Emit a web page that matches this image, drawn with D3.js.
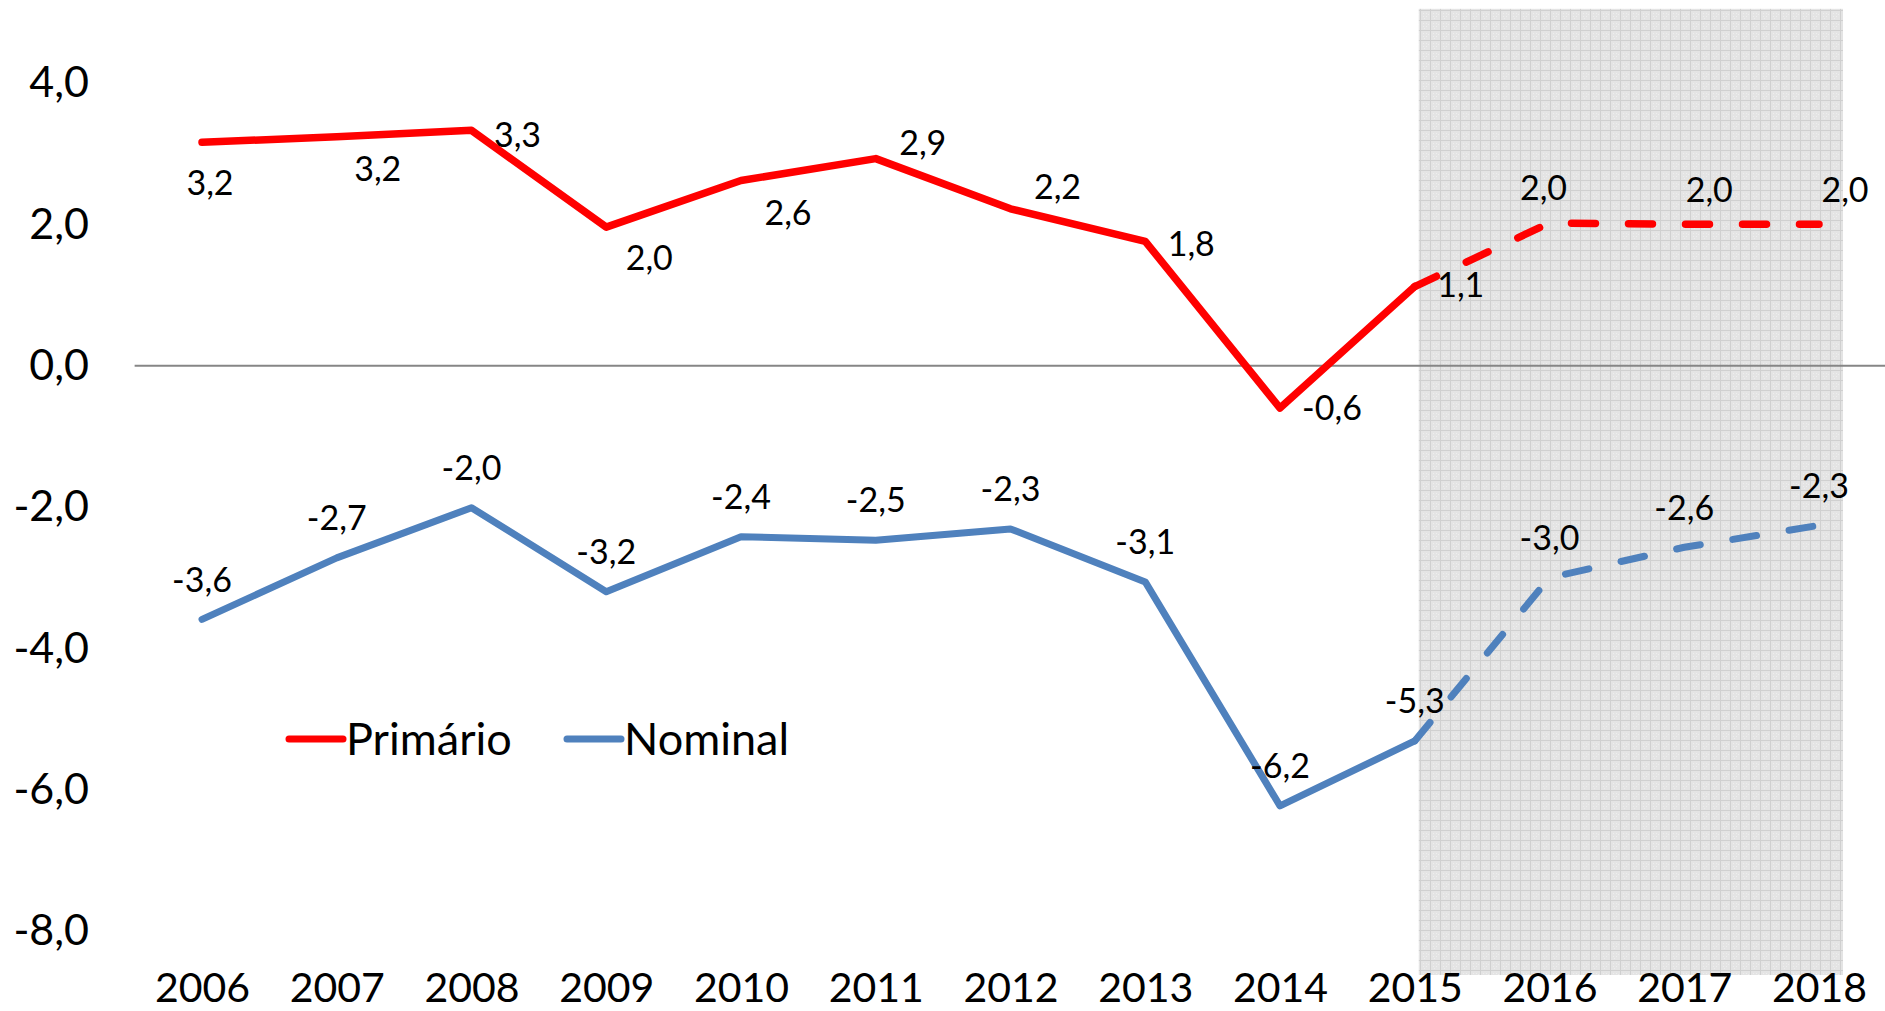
<!DOCTYPE html>
<html>
<head>
<meta charset="utf-8">
<script src="https://cdn.jsdelivr.net/npm/d3@7"></script>
<style>
  html, body { margin: 0; padding: 0; background: #fff; }
  svg { display: block; font-family: Lato, "Open Sans", sans-serif; }
</style>
</head>
<body>
<svg id="chart" width="1885" height="1011"></svg>
<script>
// ---- data ----
const years = ["2006","2007","2008","2009","2010","2011","2012","2013","2014","2015","2016","2017","2018"];
const primario = [3.16, 3.24, 3.33, 1.96, 2.62, 2.93, 2.22, 1.76, -0.6, 1.12, 2.02, 2.0, 2.0];
const nominal  = [-3.59, -2.72, -2.01, -3.2, -2.42, -2.47, -2.31, -3.06, -6.23, -5.31, -3.0, -2.57, -2.26];
const yTicks = [4, 2, 0, -2, -4, -6, -8];
const seriesNames = ["Primário", "Nominal"];
const projectionStart = "2015"; // dashed / shaded from here
const projectionEnd = "2018";

// ---- layout ----
const W = 1885, H = 1011;
const svg = d3.select("#chart");
const x = d3.scalePoint().domain(years).range([202, 1819]);
const y = d3.scaleLinear().domain([-8, 4]).range([931, 83]);
const step = x.step();
const plotLeft = x(years[0]) - step / 2;
const plotRight = W;

const loc = d3.formatLocale({decimal: ",", thousands: ".", grouping: [3], currency: ["", ""], minus: "-"});
const fmt = loc.format(".1f");

// pattern for shaded projection area
const defs = svg.append("defs");
const pat = defs.append("pattern").attr("id", "grid").attr("patternUnits", "userSpaceOnUse")
  .attr("width", 10).attr("height", 10);
pat.append("rect").attr("width", 10).attr("height", 10).attr("fill", "#e4e4e4");
pat.append("rect").attr("x", 0).attr("y", 0).attr("width", 10).attr("height", 1).attr("fill", "#d0d0d0");
pat.append("rect").attr("x", 0).attr("y", 0).attr("width", 1).attr("height", 10).attr("fill", "#d0d0d0");
[[3,3],[6,6],[3,6],[6,3],[4,8],[8,4]].forEach(([a,b]) =>
  pat.append("rect").attr("x", a).attr("y", b).attr("width", 1).attr("height", 1).attr("fill", "#eeeeee"));

// shaded projection band
svg.append("rect")
  .attr("x", x(projectionStart) + 4)
  .attr("y", y(5.05))
  .attr("width", x(projectionEnd) + 24 - (x(projectionStart) + 4))
  .attr("height", 975 - y(5.05))
  .attr("fill", "url(#grid)");

// zero line
svg.append("line")
  .attr("x1", plotLeft).attr("x2", plotRight)
  .attr("y1", y(0)).attr("y2", y(0))
  .attr("stroke", "#868686").attr("stroke-width", 2);

// y axis
const yAxis = svg.append("g").attr("transform", "translate(89,0)")
  .call(d3.axisLeft(y).tickValues(yTicks).tickFormat(fmt).tickSize(0).tickPadding(0));
yAxis.select(".domain").remove();
yAxis.selectAll("text").attr("font-size", 43).attr("fill", "#000").attr("font-family", "Lato, sans-serif");

// x axis
const xAxis = svg.append("g").attr("transform", "translate(0,973)")
  .call(d3.axisBottom(x).tickSize(0).tickPadding(0));
xAxis.select(".domain").remove();
xAxis.selectAll("text").attr("font-size", 41).attr("fill", "#000").attr("font-family", "Lato, sans-serif");

// lines
const series = [
  {name: seriesNames[0], values: primario, color: "#FF0000", width: 7.5},
  {name: seriesNames[1], values: nominal,  color: "#4F81BD", width: 7}
];
const splitIdx = years.indexOf(projectionStart);
const line = d3.line().x(d => x(d.year)).y(d => y(d.v));

series.forEach(s => {
  const pts = years.map((yr, i) => ({year: yr, v: s.values[i]}));
  svg.append("path").datum(pts.slice(0, splitIdx + 1)).attr("d", line)
    .attr("fill", "none").attr("stroke", s.color).attr("stroke-width", s.width)
    .attr("stroke-linejoin", "round").attr("stroke-linecap", "round");
  svg.append("path").datum(pts.slice(splitIdx)).attr("d", line)
    .attr("fill", "none").attr("stroke", s.color).attr("stroke-width", s.width)
    .attr("stroke-linejoin", "round").attr("stroke-linecap", "round")
    .attr("stroke-dasharray", "24,33");
});

// data labels (manual offsets as in the original)
const primarioLabelOffset = [[8,40],[41,32],[46,4],[43,31],[47,32],[47,-16],[47,-22],[46,2],[52,0],[46,-2],[-6,-35],[25,-35],[26,-35]];
const nominalLabelOffset = years.map(() => [0, -40]);

function labels(values, offs) {
  svg.append("g").selectAll("text").data(values).join("text")
    .attr("x", (d, i) => x(years[i]) + offs[i][0])
    .attr("y", (d, i) => y(d) + offs[i][1])
    .attr("dy", "0.36em")
    .attr("text-anchor", "middle")
    .attr("font-size", 34)
    .attr("fill", "#000")
    .text(d => fmt(d));
}
labels(primario, primarioLabelOffset);
labels(nominal, nominalLabelOffset);

// legend
const legendItems = [
  {name: seriesNames[0], color: "#FF0000", x0: 289},
  {name: seriesNames[1], color: "#4F81BD", x0: 567}
];
const lg = svg.append("g").attr("transform", "translate(0,739)");
legendItems.forEach(it => {
  lg.append("line").attr("x1", it.x0).attr("x2", it.x0 + 54).attr("y1", 0).attr("y2", 0)
    .attr("stroke", it.color).attr("stroke-width", 7).attr("stroke-linecap", "round");
  lg.append("text").attr("x", it.x0 + 57).attr("y", 0).attr("dy", "0.36em")
    .attr("font-size", 45).attr("fill", "#000").text(it.name);
});
</script>
</body>
</html>
